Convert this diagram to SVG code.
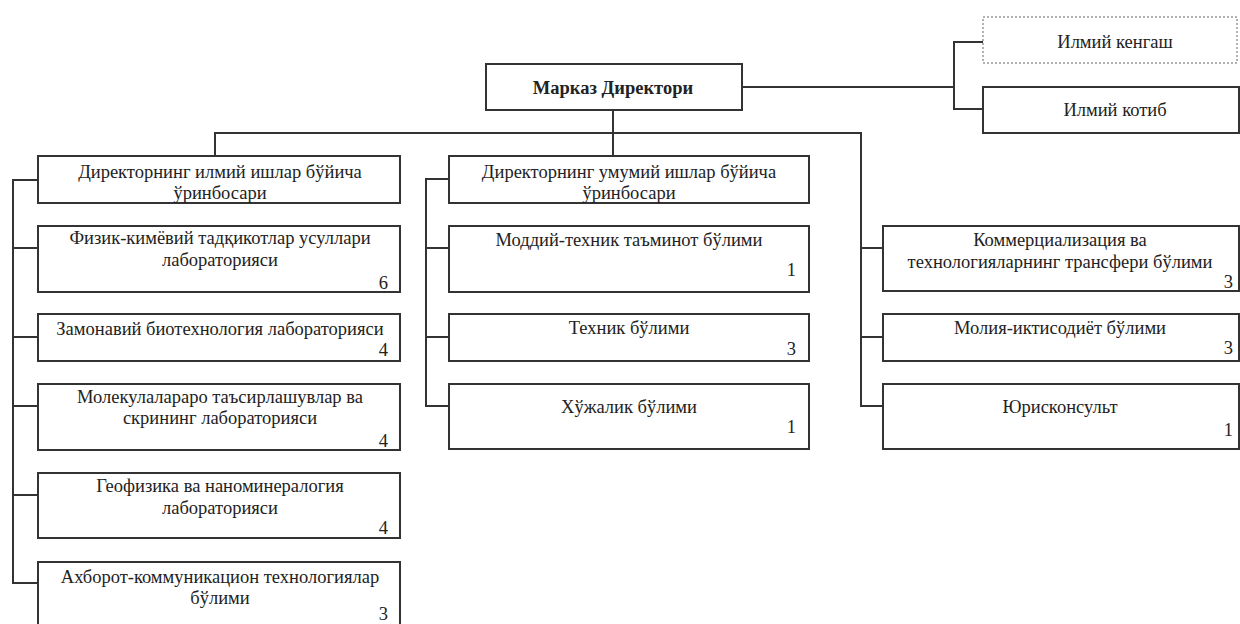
<svg xmlns="http://www.w3.org/2000/svg" width="1240" height="624" viewBox="0 0 1240 624">
<style>
.box{fill:#fff;stroke:#333;stroke-width:2}
.dot{fill:#fff;stroke:#999;stroke-width:1.5;stroke-dasharray:2 2}
.con{fill:none;stroke:#333;stroke-width:2}
text{font-family:"Liberation Serif","Times New Roman",serif;font-size:18.5px;fill:#222}
.c{text-anchor:middle}
.n{text-anchor:end}
.b{font-weight:bold}
</style>
<rect width="1240" height="624" fill="#fff"/>
<g id="connectors">
<polyline class="con" points="742,87 954,87"/>
<polyline class="con" points="983,42 954,42 954,109 983,109"/>
<polyline class="con" points="613,110 613,156"/>
<polyline class="con" points="215,156 215,133 861,133 861,406 883,406"/>
<line class="con" x1="861" y1="248" x2="883" y2="248"/>
<line class="con" x1="861" y1="337" x2="883" y2="337"/>
<polyline class="con" points="38,180 13,180 13,583 38,583"/>
<line class="con" x1="13" y1="248" x2="38" y2="248"/>
<line class="con" x1="13" y1="337" x2="38" y2="337"/>
<line class="con" x1="13" y1="406" x2="38" y2="406"/>
<line class="con" x1="13" y1="495" x2="38" y2="495"/>
<polyline class="con" points="449,179 426,179 426,406 449,406"/>
<line class="con" x1="426" y1="248" x2="449" y2="248"/>
<line class="con" x1="426" y1="337" x2="449" y2="337"/>
</g>
<g id="director">
<rect class="box" x="486" y="64" width="256" height="46"/>
<text class="c b" x="613" y="94">Марказ Директори</text>
</g>
<g id="kengash">
<rect class="dot" x="983" y="17" width="254" height="46"/>
<text class="c" x="1115" y="48">Илмий кенгаш</text>
</g>
<g id="kotib">
<rect class="box" x="983" y="87" width="256" height="46"/>
<text class="c" x="1115" y="116">Илмий котиб</text>
</g>
<g id="left-deputy">
<rect class="box" x="38" y="156" width="362" height="47"/>
<text class="c" x="220" y="178">Директорнинг илмий ишлар бўйича</text>
<text class="c" x="220" y="199">ўринбосари</text>
</g>
<g id="lab-fizik">
<rect class="box" x="38" y="226" width="362" height="66"/>
<text class="c" x="220" y="244">Физик-кимёвий тадқикотлар усуллари</text>
<text class="c" x="220" y="266">лабораторияси</text>
<text class="n" x="388" y="289">6</text>
</g>
<g id="lab-bio">
<rect class="box" x="38" y="314" width="362" height="47"/>
<text class="c" x="220" y="335">Замонавий биотехнология лабораторияси</text>
<text class="n" x="388" y="356">4</text>
</g>
<g id="lab-mol">
<rect class="box" x="38" y="384" width="362" height="66"/>
<text class="c" x="220" y="403">Молекулалараро таъсирлашувлар ва</text>
<text class="c" x="220" y="424">скрининг лабораторияси</text>
<text class="n" x="388" y="447">4</text>
</g>
<g id="lab-geo">
<rect class="box" x="38" y="473" width="362" height="65"/>
<text class="c" x="220" y="492">Геофизика ва наноминералогия</text>
<text class="c" x="220" y="514">лабораторияси</text>
<text class="n" x="388" y="534">4</text>
</g>
<g id="ikt">
<rect class="box" x="38" y="562" width="362" height="70"/>
<text class="c" x="220" y="583">Ахборот-коммуникацион технологиялар</text>
<text class="c" x="220" y="604">бўлими</text>
<text class="n" x="388" y="620">3</text>
</g>
<g id="mid-deputy">
<rect class="box" x="449" y="156" width="360" height="47"/>
<text class="c" x="629" y="178">Директорнинг умумий ишлар бўйича</text>
<text class="c" x="629" y="199">ўринбосари</text>
</g>
<g id="moddiy">
<rect class="box" x="449" y="226" width="360" height="66"/>
<text class="c" x="629" y="246">Моддий-техник таъминот бўлими</text>
<text class="n" x="796" y="276">1</text>
</g>
<g id="texnik">
<rect class="box" x="449" y="314" width="360" height="47"/>
<text class="c" x="629" y="334">Техник бўлими</text>
<text class="n" x="796" y="355">3</text>
</g>
<g id="xojalik">
<rect class="box" x="449" y="384" width="360" height="65"/>
<text class="c" x="629" y="413">Хўжалик бўлими</text>
<text class="n" x="796" y="433">1</text>
</g>
<g id="kommers">
<rect class="box" x="883" y="226" width="356" height="65"/>
<text class="c" x="1060" y="246">Коммерциализация ва</text>
<text class="c" x="1060" y="268">технологияларнинг трансфери бўлими</text>
<text class="n" x="1233" y="288">3</text>
</g>
<g id="moliya">
<rect class="box" x="883" y="314" width="356" height="47"/>
<text class="c" x="1060" y="334">Молия-иктисодиёт бўлими</text>
<text class="n" x="1233" y="354">3</text>
</g>
<g id="yuriskonsult">
<rect class="box" x="883" y="384" width="356" height="65"/>
<text class="c" x="1060" y="413">Юрисконсульт</text>
<text class="n" x="1233" y="436">1</text>
</g>
</svg>
